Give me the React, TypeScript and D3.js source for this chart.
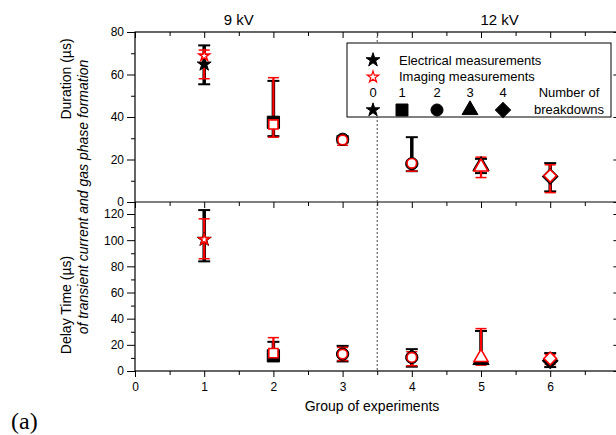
import { useEffect, useRef } from "react";
import * as d3 from "d3";

const WIDTH = 616;
const HEIGHT = 435;
const FRAME = { left: 135, right: 619.4, top: 32, mid: 202, bottom: 371 };
const FONT = "'Liberation Sans', Arial, sans-serif";
const RED = "#ff0000";

// group of experiments and number of breakdowns (-> marker shape)
const groups = [1, 2, 3, 4, 5, 6];
const breakdowns = [0, 1, 2, 2, 3, 4];
const breakdownLegend = [0, 1, 2, 3, 4];
const voltageLabels = ["9 kV", "12 kV"];
const xTicks = [0, 1, 2, 3, 4, 5, 6, 7];

// duration of gas phase formation (µs)
const elecDuration = [64.8, 37.5, 29.5, 18, 17, 12];
const elecDurationLow = [55.4, 31, 28, 14.5, 13.6, 5];
const elecDurationHigh = [73.7, 57, 31, 30.5, 20.3, 18.3];
const imgDuration = [68.8, 36.5, 29.2, 18.2, 16.5, 12.3];
const imgDurationLow = [58, 30.5, 26.7, 14.5, 11.5, 4.4];
const imgDurationHigh = [71.5, 58.5, 30.5, 19.5, 21.1, 17.5];

// delay time of transient current (µs)
const elecDelay = [100.5, 11.6, 12.9, 10.4, 8.5, 7.8];
const elecDelayLow = [83.8, 7.8, 7.3, 3.3, 5.7, 3];
const elecDelayHigh = [123, 22.3, 19.2, 16.7, 30.6, 13.7];
const imgDelay = [100.5, 13.7, 12.9, 10.4, 10.4, 9.6];
const imgDelayLow = [85.8, 8.5, 8, 4, 4.5, 5];
const imgDelayHigh = [116.3, 25.5, 18, 14.7, 32.4, 12.5];

const durationTicks = [0, 20, 40, 60, 80];
const durationMinor = [10, 30, 50, 70];
const delayTicks = [0, 20, 40, 60, 80, 100, 120];
const delayMinor = [10, 30, 50, 70, 90, 110];

// marker shapes per breakdown count
const SHAPES = [d3.symbolStar, d3.symbolSquare, d3.symbolCircle, d3.symbolTriangle, d3.symbolSquare];
const SOLID_SIZE = [60, 150, 120, 115, 120];
const HOLLOW_SIZE = [34, 85, 72, 85, 80];

const App = () => {
  const svgRef = useRef(null);

  useEffect(() => {
    const svg = d3.select(svgRef.current);
    svg.selectAll("*").remove();

    const x = d3.scaleLinear().domain([0, 7]).range([FRAME.left, FRAME.right]);
    const yTop = d3.scaleLinear().domain([0, 80]).range([FRAME.mid, FRAME.top]);
    const yBot = d3.scaleLinear().domain([0, 120]).range([FRAME.bottom, 214]);

    const marker = (
      g: any,
      b: number,
      cx: number,
      cy: number,
      size: number,
      fill: string,
      stroke: string,
      sw: number
    ) => {
      g.append("path")
        .attr("d", d3.symbol(SHAPES[b], size)())
        .attr("transform", `translate(${cx},${cy})${b === 4 ? " rotate(45)" : ""}`)
        .attr("fill", fill)
        .attr("stroke", stroke)
        .attr("stroke-width", sw);
    };

    const errorBar = (g: any, cx: number, y0: number, y1: number, color: string, lw: number, cw: number, half: number) => {
      g.append("line").attr("x1", cx).attr("x2", cx).attr("y1", y0).attr("y2", y1)
        .attr("stroke", color).attr("stroke-width", lw);
      [y0, y1].forEach((yy) =>
        g.append("line").attr("x1", cx - half).attr("x2", cx + half).attr("y1", yy).attr("y2", yy)
          .attr("stroke", color).attr("stroke-width", cw)
      );
    };

    // frames
    svg.append("rect").attr("x", FRAME.left).attr("y", FRAME.top)
      .attr("width", FRAME.right - FRAME.left).attr("height", FRAME.bottom - FRAME.top)
      .attr("fill", "none").attr("stroke", "black").attr("stroke-width", 1.2);
    svg.append("line").attr("x1", FRAME.left).attr("x2", FRAME.right)
      .attr("y1", FRAME.mid).attr("y2", FRAME.mid).attr("stroke", "black").attr("stroke-width", 1.2);

    // axes helper: strip domain, set fonts
    const styleAxis = (g: any) => {
      g.select(".domain").remove();
      g.selectAll(".tick line").attr("stroke", "black").attr("stroke-width", 1);
      g.selectAll("text").attr("font-family", FONT).attr("font-size", 12).attr("fill", "black");
    };

    // left axes (outward)
    [[yTop, durationTicks, durationMinor], [yBot, delayTicks, delayMinor]].forEach(([sc, major, minor]: any) => {
      svg.append("g").attr("transform", `translate(${FRAME.left},0)`)
        .call(d3.axisLeft(sc).tickValues(major).tickSize(8).tickPadding(3)).call(styleAxis);
      svg.append("g").attr("transform", `translate(${FRAME.left},0)`)
        .call(d3.axisLeft(sc).tickValues(minor).tickSize(4).tickFormat(() => "")).call(styleAxis);
      // right axis, ticks inward
      svg.append("g").attr("transform", `translate(${FRAME.right},0)`)
        .call(d3.axisLeft(sc).tickValues(major).tickSize(6).tickFormat(() => "")).call(styleAxis);
      svg.append("g").attr("transform", `translate(${FRAME.right},0)`)
        .call(d3.axisLeft(sc).tickValues(minor).tickSize(3).tickFormat(() => "")).call(styleAxis);
    });

    // x axes: ticks all pointing down
    const xMinor = d3.range(0.5, 7, 1);
    [FRAME.top, FRAME.mid, FRAME.bottom].forEach((yy) => {
      const labels = yy === FRAME.bottom;
      svg.append("g").attr("transform", `translate(0,${yy})`)
        .call(d3.axisBottom(x).tickValues(xTicks).tickSize(6).tickPadding(5)
          .tickFormat((d: any) => (labels ? String(d) : "")))
        .call(styleAxis);
      svg.append("g").attr("transform", `translate(0,${yy})`)
        .call(d3.axisBottom(x).tickValues(xMinor).tickSize(4).tickFormat(() => ""))
        .call(styleAxis);
    });

    // separation 9 kV / 12 kV
    svg.append("line").attr("x1", x(3.5)).attr("x2", x(3.5))
      .attr("y1", FRAME.top).attr("y2", FRAME.bottom)
      .attr("stroke", "#444").attr("stroke-width", 1).attr("stroke-dasharray", "2,2");

    svg.append("text").attr("x", x(1.5)).attr("y", 25).attr("text-anchor", "middle")
      .attr("font-family", FONT).attr("font-size", 15).text(voltageLabels[0]);
    svg.append("text").attr("x", x(5.27)).attr("y", 25).attr("text-anchor", "middle")
      .attr("font-family", FONT).attr("font-size", 15).text(voltageLabels[1]);

    // data
    const panels = [
      { y: yTop, e: elecDuration, eL: elecDurationLow, eH: elecDurationHigh, i: imgDuration, iL: imgDurationLow, iH: imgDurationHigh },
      { y: yBot, e: elecDelay, eL: elecDelayLow, eH: elecDelayHigh, i: imgDelay, iL: imgDelayLow, iH: imgDelayHigh },
    ];
    panels.forEach((p) => {
      const g = svg.append("g");
      groups.forEach((grp, k) => {
        const cx = x(grp);
        errorBar(g, cx, p.y(p.eL[k]), p.y(p.eH[k]), "black", 3.5, 2, 6);
        errorBar(g, cx, p.y(p.iL[k]), p.y(p.iH[k]), RED, 2.2, 1.5, 5.5);
        const b = breakdowns[k];
        marker(g, b, cx, p.y(p.e[k]), SOLID_SIZE[b], "black", "black", 1);
        marker(g, b, cx, p.y(p.i[k]), HOLLOW_SIZE[b], "white", RED, 1.6);
      });
    });

    // legend
    const lg = svg.append("g");
    lg.append("rect").attr("x", 347).attr("y", 43).attr("width", 264).attr("height", 74)
      .attr("fill", "white").attr("stroke", "black").attr("stroke-width", 1);
    marker(lg, 0, 373, 60, SOLID_SIZE[0], "black", "black", 1);
    marker(lg, 0, 373, 77, HOLLOW_SIZE[0] + 6, "white", RED, 1.2);
    lg.append("text").attr("x", 399).attr("y", 65).attr("font-family", FONT).attr("font-size", 13)
      .text("Electrical measurements");
    lg.append("text").attr("x", 399).attr("y", 81).attr("font-family", FONT).attr("font-size", 13)
      .text("Imaging measurements");
    const legX = [373, 402, 437, 470, 503];
    breakdownLegend.forEach((b, k) => {
      lg.append("text").attr("x", legX[k]).attr("y", 97).attr("text-anchor", "middle")
        .attr("font-family", FONT).attr("font-size", 13).text(String(b));
      marker(lg, b, legX[k], 110, SOLID_SIZE[b] * 0.95, "black", "black", 1);
    });
    lg.append("text").attr("x", 569).attr("y", 97).attr("text-anchor", "middle")
      .attr("font-family", FONT).attr("font-size", 13).text("Number of");
    lg.append("text").attr("x", 569).attr("y", 114).attr("text-anchor", "middle")
      .attr("font-family", FONT).attr("font-size", 13).text("breakdowns");

    // axis titles
    svg.append("text").attr("x", 372).attr("y", 411).attr("text-anchor", "middle")
      .attr("font-family", FONT).attr("font-size", 14).text("Group of experiments");
    svg.append("text").attr("transform", "translate(71,79) rotate(-90)").attr("text-anchor", "middle")
      .attr("font-family", FONT).attr("font-size", 14).text("Duration (µs)");
    svg.append("text").attr("transform", "translate(71,305) rotate(-90)").attr("text-anchor", "middle")
      .attr("font-family", FONT).attr("font-size", 14).text("Delay Time (µs)");
    svg.append("text").attr("transform", "translate(88,197) rotate(-90)").attr("text-anchor", "middle")
      .attr("font-family", FONT).attr("font-size", 14).attr("font-style", "italic")
      .text("of transient current and gas phase formation");

    svg.append("text").attr("x", 11).attr("y", 429)
      .attr("font-family", "'Liberation Serif', 'Times New Roman', serif").attr("font-size", 24)
      .text("(a)");
  }, []);

  return (
    <svg
      ref={svgRef}
      width={WIDTH}
      height={HEIGHT}
      style={{ position: "absolute", left: 0, top: 0, background: "white", display: "block" }}
    ></svg>
  );
};

export default App;
